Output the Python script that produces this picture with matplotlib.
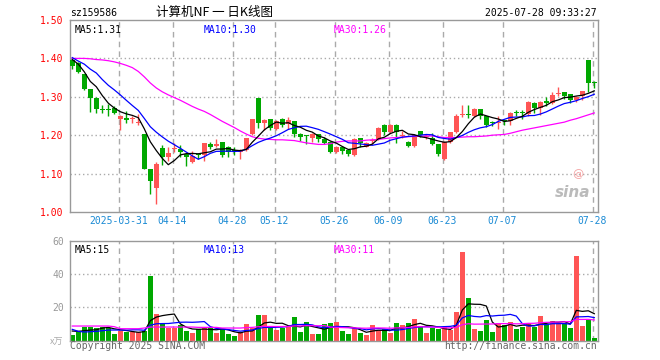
import matplotlib
matplotlib.use('Agg')
from matplotlib import pyplot as plt
import numpy as np
import pandas as pd

plt.rcParams['font.family'] = ['DejaVu Sans Mono', 'Noto Sans CJK SC']

# ---- data (index 0 = 2025-03-19) ----
opens = [1.395, 1.388, 1.359, 1.320, 1.298, 1.268, 1.266, 1.272, 1.243, 1.246,
         1.243, 1.231, 1.202, 1.112, 1.063, 1.166, 1.144, 1.163, 1.165, 1.152,
         1.131, 1.149, 1.149, 1.177, 1.172, 1.181, 1.170, 1.160, 1.155, 1.161,
         1.203, 1.298, 1.233, 1.242, 1.216, 1.241, 1.228, 1.237, 1.203, 1.199,
         1.192, 1.202, 1.189, 1.183, 1.155, 1.170, 1.161, 1.148, 1.192, 1.170,
         1.184, 1.189, 1.227, 1.209, 1.227, 1.198, 1.183, 1.172, 1.211, 1.195,
         1.194, 1.177, 1.137, 1.181, 1.209, 1.252, 1.256, 1.250, 1.268, 1.250,
         1.232, 1.231, 1.238, 1.237, 1.259, 1.259, 1.255, 1.285, 1.270, 1.287,
         1.283, 1.307, 1.312, 1.307, 1.292, 1.302, 1.396, 1.336]
highs = [1.400, 1.390, 1.360, 1.320, 1.299, 1.278, 1.280, 1.276, 1.253, 1.263,
         1.250, 1.255, 1.203, 1.112, 1.130, 1.175, 1.168, 1.179, 1.175, 1.153,
         1.159, 1.154, 1.180, 1.182, 1.189, 1.182, 1.172, 1.170, 1.164, 1.194,
         1.243, 1.298, 1.242, 1.242, 1.240, 1.245, 1.247, 1.238, 1.206, 1.200,
         1.205, 1.203, 1.196, 1.184, 1.171, 1.171, 1.162, 1.192, 1.193, 1.181,
         1.192, 1.222, 1.228, 1.229, 1.228, 1.212, 1.184, 1.201, 1.212, 1.202,
         1.207, 1.178, 1.184, 1.209, 1.255, 1.279, 1.279, 1.270, 1.269, 1.251,
         1.238, 1.250, 1.242, 1.260, 1.266, 1.266, 1.290, 1.286, 1.288, 1.299,
         1.312, 1.325, 1.313, 1.308, 1.301, 1.316, 1.397, 1.341]
lows = [1.372, 1.363, 1.318, 1.261, 1.258, 1.258, 1.251, 1.255, 1.213, 1.233,
        1.232, 1.227, 1.111, 1.047, 1.021, 1.122, 1.134, 1.157, 1.142, 1.121,
        1.128, 1.137, 1.134, 1.165, 1.168, 1.142, 1.142, 1.148, 1.137, 1.160,
        1.200, 1.220, 1.213, 1.213, 1.213, 1.222, 1.215, 1.196, 1.186, 1.176,
        1.183, 1.181, 1.176, 1.153, 1.153, 1.150, 1.147, 1.146, 1.168, 1.169,
        1.177, 1.188, 1.200, 1.207, 1.179, 1.192, 1.170, 1.168, 1.196, 1.189,
        1.175, 1.146, 1.135, 1.180, 1.207, 1.247, 1.246, 1.248, 1.241, 1.222,
        1.225, 1.215, 1.227, 1.227, 1.250, 1.242, 1.250, 1.259, 1.253, 1.276,
        1.281, 1.303, 1.293, 1.283, 1.287, 1.292, 1.313, 1.322]
closes = [1.381, 1.364, 1.320, 1.298, 1.268, 1.266, 1.265, 1.257, 1.250, 1.240,
          1.246, 1.235, 1.112, 1.082, 1.125, 1.144, 1.153, 1.166, 1.155, 1.142,
          1.147, 1.148, 1.179, 1.168, 1.177, 1.148, 1.155, 1.158, 1.161, 1.193,
          1.242, 1.233, 1.240, 1.218, 1.238, 1.227, 1.240, 1.203, 1.196, 1.198,
          1.203, 1.190, 1.179, 1.155, 1.170, 1.159, 1.151, 1.189, 1.179, 1.179,
          1.186, 1.220, 1.209, 1.227, 1.209, 1.199, 1.172, 1.200, 1.200, 1.197,
          1.177, 1.151, 1.183, 1.208, 1.250, 1.255, 1.253, 1.268, 1.250, 1.227,
          1.231, 1.235, 1.236, 1.259, 1.258, 1.258, 1.287, 1.272, 1.287, 1.285,
          1.305, 1.310, 1.303, 1.292, 1.300, 1.315, 1.335, 1.335]
volumes = [3.4, 5.0, 8.4, 8.4, 7.4, 8.4, 7.4, 4.0, 5.8, 5.0,
           5.4, 5.0, 5.8, 38.8, 15.8, 9.8, 7.8, 7.8, 9.4, 5.8,
           4.4, 6.8, 8.4, 8.4, 4.8, 6.8, 4.0, 2.8, 5.0, 10.0,
           7.4, 15.4, 15.4, 7.4, 6.4, 7.8, 8.0, 14.2, 5.0, 11.4,
           4.0, 4.0, 10.0, 10.6, 11.2, 5.8, 4.0, 7.4, 4.6, 3.4,
           9.4, 6.6, 6.8, 4.6, 10.6, 9.4, 10.6, 13.0, 8.6, 4.6,
           7.8, 7.0, 8.2, 6.2, 17.2, 53.4, 25.6, 7.0, 5.8, 12.4,
           5.2, 10.6, 9.6, 11.2, 7.0, 8.2, 10.6, 8.4, 15.0, 9.8,
           11.8, 10.4, 10.4, 7.6, 50.8, 8.8, 12.2, 1.6]

# moving-average values before a full window exists
ma5_head = [1.397, 1.385, 1.365, 1.340]
ma10_head = [1.402, 1.393, 1.385, 1.372, 1.362, 1.345, 1.330, 1.318, 1.305]
ma30 = [1.400, 1.400, 1.400, 1.399, 1.397, 1.396, 1.394, 1.391, 1.387, 1.382,
        1.376, 1.366, 1.352, 1.336, 1.323, 1.313, 1.305, 1.298, 1.291, 1.283,
        1.275, 1.268, 1.262, 1.254, 1.245, 1.236, 1.228, 1.220, 1.211, 1.203,
        1.196, 1.192, 1.190, 1.189, 1.188, 1.188, 1.187, 1.186, 1.183, 1.180,
        1.178, 1.176, 1.176, 1.178, 1.182, 1.184, 1.185, 1.185, 1.185, 1.187,
        1.188, 1.189, 1.191, 1.193, 1.194, 1.195, 1.196, 1.197, 1.197, 1.198,
        1.198, 1.196, 1.194, 1.194, 1.194, 1.195, 1.196, 1.196, 1.197, 1.198,
        1.200, 1.201, 1.202, 1.205, 1.209, 1.213, 1.216, 1.219, 1.222, 1.225,
        1.228, 1.231, 1.234, 1.239, 1.243, 1.248, 1.253, 1.258]
vma5_head = [5.8, 5.6, 6.0, 6.4]
vma10_head = [6.8, 5.6, 5.2, 5.4, 5.6, 6.0, 6.4, 6.4, 6.4]
vma30_head = [8.8, 8.8, 8.8, 8.8, 8.8, 8.8, 8.8, 8.4, 7.2, 7.2,
              7.2, 7.2, 7.6, 8.2, 8.2, 8.2, 8.2, 8.2, 8.2, 8.2,
              8.2, 8.0, 8.0, 8.0, 8.0, 7.6, 7.6, 7.6, 7.6]

tick_idx = [8, 17, 27, 34, 44, 53, 62, 72, 87]
tick_labels = ['2025-03-31', '04-14', '04-28', '05-12', '05-26', '06-09',
               '06-23', '07-07', '07-28']
price_ticks = [1.00, 1.10, 1.20, 1.30, 1.40, 1.50]
vol_ticks = [20, 40, 60]


def moving(values, n, head):
    s = pd.Series(values).rolling(n).mean().to_numpy()
    s[:len(head)] = head
    return s


RED = '#ff5555'
GREEN = '#00a800'
GRID = '#aaaaaa'
FRAME = '#999999'

x = np.arange(len(closes))
o = np.array(opens); c = np.array(closes)
up = c >= o
colors = np.where(up, RED, GREEN)

W, H = 660, 360
fig = plt.figure(figsize=(6.6, 3.6), dpi=100)
fig.patch.set_facecolor('white')


def px_axes(left, top, right, bottom):
    return fig.add_axes([left / W, 1 - bottom / H, (right - left) / W, (bottom - top) / H])


ax = px_axes(70, 20, 598, 212)
axv = px_axes(70, 240.7, 598, 340.7)

xlim = ((70 - 72.3) / 6, (598 - 72.3) / 6)
grid_x = [t - 0.3 for t in tick_idx]

for a in (ax, axv):
    a.set_xlim(*xlim)
    for s in a.spines.values():
        s.set_color(FRAME)
        s.set_linewidth(1.0)
    for gx in grid_x:
        a.axvline(gx, color=GRID, lw=1, ls=(0, (4, 3)), zorder=0)
    a.tick_params(length=0)

# ---- price panel ----
ax.set_ylim(1.0, 1.5)
for p in price_ticks[1:-1]:
    ax.axhline(p, color=GRID, lw=1, ls=(0, (1, 2)), zorder=0)
ax.vlines(x, lows, highs, colors=colors, lw=1, zorder=2)
body = np.maximum(np.abs(c - o), 0.003)
ax.bar(x, body, bottom=np.minimum(o, c), width=0.8, color=colors, zorder=3)

ax.plot(x, ma30, color='#ff00ff', lw=0.9, zorder=4)
ax.plot(x, moving(closes, 10, ma10_head), color='#0000ff', lw=0.9, zorder=4)
ax.plot(x, moving(closes, 5, ma5_head), color='black', lw=0.9, zorder=4)

ax.set_yticks(price_ticks)
ax.set_yticklabels(['%.2f' % p for p in price_ticks], color='red', fontsize=7)
ax.tick_params(axis='y', pad=5)
ax.set_xticks(grid_x)
ax.set_xticklabels(tick_labels, color='#1a8ad4', fontsize=7)
ax.tick_params(axis='x', pad=3)

ax.text(5 / 528, 0.972, 'MA5:1.31', transform=ax.transAxes, fontsize=7, color='black', va='top')
ax.text(134 / 528, 0.972, 'MA10:1.30', transform=ax.transAxes, fontsize=7, color='#0000ff', va='top')
ax.text(264 / 528, 0.972, 'MA30:1.26', transform=ax.transAxes, fontsize=7, color='#ff00ff', va='top')
ax.text(0.985, 0.06, 'sina', transform=ax.transAxes, fontsize=11, color='#bbbbbb',
        style='italic', weight='bold', ha='right', va='bottom', family='DejaVu Sans', zorder=1)
ax.text(0.962, 0.17, '@', transform=ax.transAxes, fontsize=8, color='#f4a0a0',
        ha='center', va='bottom', family='DejaVu Sans', zorder=1)

# ---- volume panel ----
axv.set_ylim(0, 60)
for v in vol_ticks[:-1]:
    axv.axhline(v, color=GRID, lw=1, ls=(0, (1, 2)), zorder=0)
axv.bar(x, volumes, width=0.8, color=colors, zorder=2)
axv.plot(x, moving(volumes, 5, vma5_head), color='black', lw=0.9, zorder=3)
axv.plot(x, moving(volumes, 10, vma10_head), color='#0000ff', lw=0.9, zorder=3)
axv.plot(x, moving(volumes, 30, vma30_head), color='#ff00ff', lw=0.9, zorder=3)
axv.set_yticks(vol_ticks)
axv.set_yticklabels([str(v) for v in vol_ticks], color='#999999', fontsize=7)
axv.tick_params(axis='y', pad=4)
axv.set_xticks([])

axv.text(5 / 528, 0.96, 'MA5:15', transform=axv.transAxes, fontsize=7, color='black', va='top')
axv.text(134 / 528, 0.96, 'MA10:13', transform=axv.transAxes, fontsize=7, color='#0000ff', va='top')
axv.text(264 / 528, 0.96, 'MA30:11', transform=axv.transAxes, fontsize=7, color='#ff00ff', va='top')

# ---- header / footer texts ----
fig.text(70 / W, 1 - 13 / H, 'sz159586', fontsize=7, color='black', va='center')
fig.text(215 / W, 1 - 12.5 / H, '计算机NF 一 日K线图', fontsize=9, color='black',
         ha='center', va='center', family=['Noto Sans CJK SC', 'DejaVu Sans'])
fig.text(597 / W, 1 - 13 / H, '2025-07-28 09:33:27', fontsize=7, color='black',
         ha='right', va='center')
fig.text(70 / W, 1 - 346 / H, 'Copyright 2025 SINA.COM', fontsize=7, color='#666666', va='center')
fig.text(597 / W, 1 - 346 / H, 'http://finance.sina.com.cn', fontsize=7, color='#666666',
         ha='right', va='center')
fig.text(63 / W, 1 - 342 / H, 'x万', fontsize=6.5, color='#aaaaaa', ha='right', va='center',
         style='italic', family=['Noto Sans CJK SC', 'DejaVu Sans'])

fig.savefig('out.png', dpi=100, facecolor='white')
